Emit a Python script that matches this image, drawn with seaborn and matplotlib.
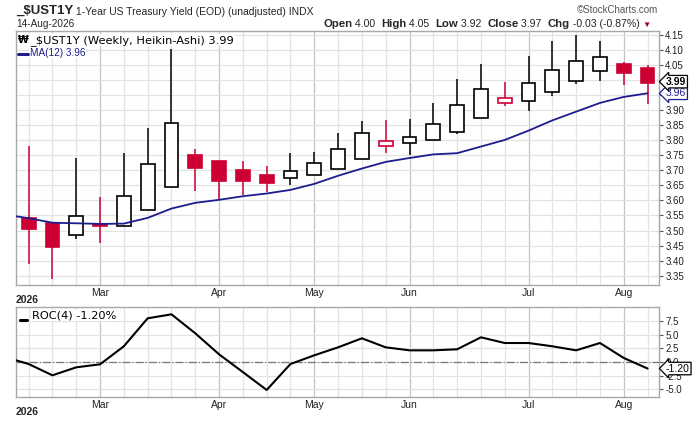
import numpy as np
import pandas as pd
import seaborn as sns
import matplotlib.pyplot as plt
from matplotlib.lines import Line2D

# weekly Heikin-Ashi candles, 27 weeks ending 14-Aug-2026
weeks = list(range(27))
ha_open = [3.540, 3.525, 3.485, 3.522, 3.516, 3.567, 3.644, 3.750, 3.730, 3.700,
           3.684, 3.674, 3.684, 3.704, 3.737, 3.780, 3.790, 3.800, 3.827, 3.873,
           3.924, 3.930, 3.960, 3.996, 4.029, 4.054, 4.040]
ha_high = [3.782, 3.530, 3.740, 3.613, 3.758, 3.841, 4.103, 3.771, 3.730, 3.731,
           3.715, 3.757, 3.760, 3.824, 3.864, 3.868, 3.871, 3.924, 4.004, 4.054,
           3.994, 4.080, 4.130, 4.150, 4.130, 4.059, 4.050]
ha_low = [3.389, 3.340, 3.473, 3.460, 3.516, 3.567, 3.644, 3.633, 3.602, 3.619,
          3.628, 3.652, 3.684, 3.704, 3.737, 3.756, 3.751, 3.800, 3.822, 3.873,
          3.913, 3.898, 3.948, 3.986, 3.998, 3.985, 3.920]
ha_close = [3.505, 3.445, 3.547, 3.516, 3.615, 3.720, 3.856, 3.709, 3.666, 3.664,
            3.659, 3.697, 3.724, 3.770, 3.823, 3.797, 3.810, 3.853, 3.916, 3.969,
            3.940, 3.989, 4.033, 4.062, 4.076, 4.025, 3.990]

# indicators start one week earlier (line runs in from the left edge)
ind_weeks = list(range(-1, 27))
ma12 = [3.553, 3.541, 3.526, 3.524, 3.522, 3.523, 3.542, 3.573, 3.592, 3.602,
        3.614, 3.623, 3.635, 3.655, 3.682, 3.706, 3.728, 3.741, 3.753, 3.757,
        3.779, 3.801, 3.832, 3.866, 3.895, 3.924, 3.944, 3.956]
roc4 = [0.90, -0.37, -2.44, -0.98, -0.43, 2.87, 7.99, 8.72, 5.25, 1.40,
        -1.85, -5.12, -0.37, 1.22, 2.68, 4.33, 2.68, 2.13, 2.13, 2.32,
        4.51, 3.47, 3.47, 2.87, 2.13, 3.47, 0.73, -1.20]

month_pos = [3, 8, 12, 16, 21, 25]
month_labels = ["Mar", "Apr", "May", "Jun", "Jul", "Aug"]
price_ticks = [3.35, 3.40, 3.45, 3.50, 3.55, 3.60, 3.65, 3.70, 3.75, 3.80,
               3.85, 3.90, 3.95, 4.00, 4.05, 4.10, 4.15]
price_labels = [f"{v:.2f}" for v in price_ticks]
price_labels[price_ticks.index(3.95)] = ""
price_labels[price_ticks.index(4.00)] = ""
roc_ticks = [-5.0, -2.5, 0.0, 2.5, 5.0, 7.5]

RED = "#cc0033"
NAVY = "#1c1c8c"
GRID = "#e3e3e3"
MGRID = "#c4c4c4"
EDGE = "#a8a8a8"

sns.set_style("white")
plt.rcParams["font.family"] = ["Liberation Sans", "DejaVu Sans"]

fig = plt.figure(figsize=(7.0, 4.21), dpi=100)
W, H = 700, 421
ax = fig.add_axes([16 / W, 1 - 285 / H, 643 / W, 254 / H])
ax2 = fig.add_axes([16 / W, 1 - 397 / H, 643 / W, 90 / H])

df = pd.DataFrame({"week": weeks, "open": ha_open, "high": ha_high,
                   "low": ha_low, "close": ha_close})
df["prev"] = df["close"].shift(1)
df["filled"] = df["close"] < df["open"]
df["red"] = df["filled"] | (df["close"] < df["prev"])
df["color"] = np.where(df["red"], RED, "black")
df["face"] = np.where(df["filled"], RED, "white")

for a in (ax, ax2):
    a.set_xlim(-0.53, 26.48)
    a.set_xticks(weeks, minor=True)
    a.set_xticks(month_pos)
    a.set_xticklabels(month_labels)
    a.grid(which="minor", axis="x", color=GRID, lw=0.9, zorder=0)
    a.grid(which="major", axis="x", color=MGRID, lw=0.9, zorder=0)
    a.grid(which="major", axis="y", color=GRID, lw=0.9, zorder=0)
    a.yaxis.tick_right()
    a.tick_params(axis="y", which="major", right=True, length=3, width=0.8,
                  color="#555555", labelsize=7, pad=1.5, labelcolor="#222222")
    a.tick_params(axis="x", which="both", length=0, labelsize=7.5, pad=2,
                  labelcolor="#222222")
    for sp in a.spines.values():
        sp.set_color(EDGE)
        sp.set_linewidth(1.0)
    a.set_axisbelow(True)

# candles
ax.vlines(df["week"], df["low"], df["high"], colors=df["color"], lw=1.1, zorder=2)
ax.bar(df["week"], (df["close"] - df["open"]).abs().clip(lower=0.002),
       bottom=df[["open", "close"]].min(axis=1), width=0.58,
       color=df["face"], edgecolor=df["color"], linewidth=1.2, zorder=3)
sns.lineplot(x=ind_weeks, y=ma12, ax=ax, color=NAVY, lw=1.3, zorder=4)

ax.set_ylim(3.319, 4.163)
ax.set_yticks(price_ticks)
ax.set_yticklabels(price_labels)
ax.set_xlabel("")
ax.set_ylabel("")

# value tags on the price axis
tag_kw = dict(xycoords=("axes fraction", "data"), textcoords="offset points",
              va="center", ha="left", fontsize=7.5, annotation_clip=False)
ax.annotate("3.96", xy=(1.0, 3.956), xytext=(5, 0), color=NAVY,
            bbox=dict(boxstyle="larrow,pad=0.12", fc="white", ec=NAVY, lw=0.9),
            **tag_kw)
ax.annotate("3.99", xy=(1.0, 3.990), xytext=(5, 1), color="black", weight="bold",
            bbox=dict(boxstyle="larrow,pad=0.12", fc="white", ec="black", lw=0.9),
            **tag_kw)

# in-panel legend
ax.text(0.003, 0.985, "₩", transform=ax.transAxes, family="DejaVu Sans",
        fontsize=7, weight="bold", va="top", ha="left", color="black", zorder=6)
ax.text(0.022, 0.985, "_$UST1Y (Weekly, Heikin-Ashi) 3.99", transform=ax.transAxes,
        family="DejaVu Sans", fontsize=8.2, va="top", ha="left", color="black",
        bbox=dict(fc="white", ec="none", pad=0.5), zorder=6)
ax.text(0.022, 0.935, "MA(12) 3.96", transform=ax.transAxes, fontsize=7.2,
        va="top", ha="left", color=NAVY,
        bbox=dict(fc="white", ec="none", pad=0.5), zorder=6)
ax.add_line(Line2D([0.003, 0.019], [0.911, 0.911], transform=ax.transAxes,
                   color=NAVY, lw=2.2, zorder=7))

# ROC panel
sns.lineplot(x=ind_weeks, y=roc4, ax=ax2, color="black", lw=1.5, zorder=4)
ax2.axhline(0, color="#777777", lw=0.9, ls="-.", zorder=3)
ax2.set_ylim(-6.41, 10.06)
ax2.set_yticks(roc_ticks)
ax2.set_yticklabels([f"{v:.1f}" for v in roc_ticks])
ax2.set_xlabel("")
ax2.set_ylabel("")
ax2.annotate("-1.20", xy=(1.0, -1.20), xytext=(5, 0), color="black",
             bbox=dict(boxstyle="larrow,pad=0.12", fc="white", ec="black", lw=0.9),
             **tag_kw)
ax2.text(0.025, 0.96, "ROC(4) -1.20%", transform=ax2.transAxes, family="DejaVu Sans",
         fontsize=8.2, va="top", ha="left", color="black",
         bbox=dict(fc="white", ec="none", pad=0.5), zorder=6)
ax2.add_line(Line2D([0.006, 0.017], [0.86, 0.86], transform=ax2.transAxes,
                    color="black", lw=2.2, zorder=7))

# year markers
fig.text(16 / W, 1 - 300 / H, "2026", fontsize=7.5, weight="bold", va="center")
fig.text(16 / W, 1 - 412 / H, "2026", fontsize=7.5, weight="bold", va="center")


def chain(x, y, pieces):
    t = fig.text(x, y, pieces[0][0], va="baseline", ha="left", **pieces[0][1])
    for s, kw in pieces[1:]:
        t = ax.annotate(s, xy=(1, 0), xycoords=t, va="bottom", ha="left",
                        annotation_clip=False, **kw)
    return t


chain(16 / W, 1 - 14 / H, [
    ("_$UST1Y", dict(fontsize=9.5, weight="bold")),
    (" 1-Year US Treasury Yield (EOD) (unadjusted) INDX", dict(fontsize=7.5)),
])
fig.text(16 / W, 1 - 27 / H, "14-Aug-2026", fontsize=7.2, va="baseline")
fig.text(658 / W, 1 - 13 / H, "©StockCharts.com", fontsize=7, color="#555555",
         ha="right", va="baseline")

b = dict(fontsize=8.2, weight="bold")
r = dict(fontsize=7.6)
chain(323 / W, 1 - 27 / H, [
    ("Open", b), (" 4.00  ", r), ("High", b), (" 4.05  ", r), ("Low", b),
    (" 3.92  ", r), ("Close", b), (" 3.97  ", r), ("Chg", b),
    (" -0.03 (-0.87%) ", r), ("▼", dict(fontsize=6, color="#990033")),
])

fig.savefig("out.png", dpi=100)
